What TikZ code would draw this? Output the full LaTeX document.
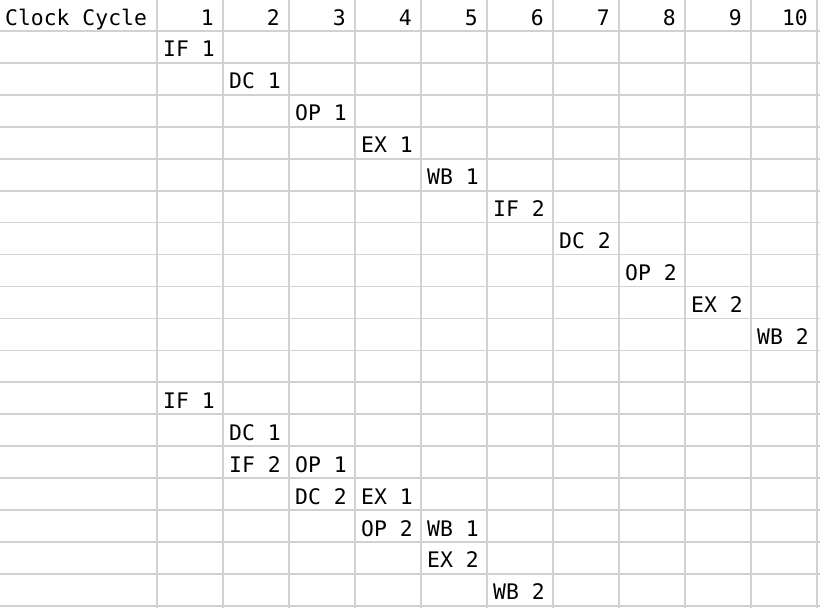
\documentclass[tikz,border=0pt]{standalone}
\usepackage{fontspec}
\setmonofont{DejaVu Sans Mono}
\begin{document}
\begin{tikzpicture}[x=1pt,y=-1pt,
  gridline/.style={draw=black!18,line width=1.7pt},
  cell/.style={font=\ttfamily\fontsize{21.4}{24}\selectfont,inner sep=0pt,anchor=base west,text=black},
  num/.style={font=\ttfamily\fontsize{21.4}{24}\selectfont,inner sep=0pt,anchor=base east,text=black}]
\useasboundingbox (0,0) rectangle (820,608);
\fill[white] (0,0) rectangle (820,608);
% vertical lines
\foreach \i in {0,...,10} {
  \draw[gridline] ({157+66*\i},0) -- ({157+66*\i},608);
}
% horizontal lines
\foreach \k in {0,...,18} {
  \draw[gridline] (0,{31+31.94*\k}) -- (820,{31+31.94*\k});
}
% header
\node[cell] (hdr) at (5,25) {Clock Cycle};
\foreach \i in {1,...,10} {
  \node[num] (c\i) at ({157+66*\i-9},25) {\i};
}
% cell macro: name, column c (1..10), row r (1..18), text
\newcommand{\putcell}[4]{\node[cell] (#1) at ({157+66*(#2-1)+6},{31+31.94*#3-6}) {#4};}
\putcell{a1}{1}{1}{IF 1}
\putcell{a2}{2}{2}{DC 1}
\putcell{a3}{3}{3}{OP 1}
\putcell{a4}{4}{4}{EX 1}
\putcell{a5}{5}{5}{WB 1}
\putcell{a6}{6}{6}{IF 2}
\putcell{a7}{7}{7}{DC 2}
\putcell{a8}{8}{8}{OP 2}
\putcell{a9}{9}{9}{EX 2}
\putcell{a10}{10}{10}{WB 2}
\putcell{b1}{1}{12}{IF 1}
\putcell{b2}{2}{13}{DC 1}
\putcell{b3}{2}{14}{IF 2}
\putcell{b4}{3}{14}{OP 1}
\putcell{b5}{3}{15}{DC 2}
\putcell{b6}{4}{15}{EX 1}
\putcell{b7}{4}{16}{OP 2}
\putcell{b8}{5}{16}{WB 1}
\putcell{b9}{5}{17}{EX 2}
\putcell{b10}{6}{18}{WB 2}
\end{tikzpicture}
\end{document}
